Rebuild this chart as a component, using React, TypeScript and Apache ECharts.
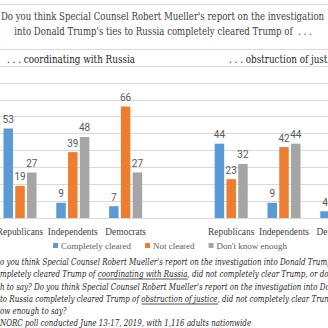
import React, { useEffect, useRef } from "react";
import * as echarts from "echarts";

const categories = ["Republicans", "Independents", "Democrats"];
const seriesNames = ["Completely cleared", "Not cleared", "Don't know enough"];
const coordCleared = [53, 9, 7];
const coordNotCleared = [19, 39, 66];
const coordDontKnow = [27, 48, 27];
const obstrCleared = [44, 9, 4];
const obstrNotCleared = [23, 42, 70];
const obstrDontKnow = [32, 44, 24];
const colors = ["#5B9BD5", "#ED7D31", "#A5A5A5"];

const titleLines = [
  "Do you think Special Counsel Robert Mueller's report on the investigation",
  "into Donald Trump's ties to Russia completely cleared Trump of  . . .",
];
const panelTitles = [". . . coordinating with Russia", ". . . obstruction of justice"];

// [hidden prefix (cut off at left), text, underlined, rest]
const noteLines: [string, string, string, string][] = [
  ["D", "o you think Special Counsel Robert Mueller's report on the investigation into Donald Trump's", "", ""],
  ["co", "mpletely cleared Trump of ", "coordinating with Russia", ", did not completely clear Trump, or don't you know"],
  ["enoug", "h to say? Do you think Special Counsel Robert Mueller's report on the investigation into Donald", "", ""],
  ["ties ", "to Russia completely cleared Trump of ", "obstruction of justice", ", did not completely clear Trump, or don't"],
  ["kn", "ow enough to say?", "", ""],
  ["AP-", "NORC poll conducted June 13-17, 2019, with 1,116 adults nationwide", "", ""],
];

const SERIF = "Liberation Serif";
const SLAB = "DejaVu Serif";

function measure(text: string, font: string): number {
  const c = document.createElement("canvas");
  const ctx = c.getContext("2d")!;
  ctx.font = font;
  return ctx.measureText(text).width;
}

function fit(text: string, target: number, family: string): number {
  return (10 * target) / measure(text, `10px "${family}"`);
}

export default function App() {
  const ref = useRef<HTMLDivElement>(null);
  useEffect(() => {
    if (!ref.current) return;
    const chart = echarts.init(ref.current, null, { renderer: "svg" });

    const axisCats = [...categories, "", ...categories];
    const seriesData = [
      [...coordCleared, null, ...obstrCleared],
      [...coordNotCleared, null, ...obstrNotCleared],
      [...coordDontKnow, null, ...obstrDontKnow],
    ];

    const catSize = fit("Independents", 50, SERIF);
    const legendSize = fit("Completely cleared", 70, SERIF);

    const titleSX = 324 / measure(titleLines[0], `10.5px "${SLAB}"`);
    const panelSX = 128 / measure(panelTitles[0], `11px "${SLAB}"`);
    const noteCanvasFont = `italic 10px "${SLAB}"`;
    const sample = "o you think Special Counsel Robert Mueller's report on the investigation into Donald Trum";
    const noteSX = 328 / measure(sample, noteCanvasFont);
    const noteY = [261.5, 274, 286.5, 299, 311, 323];

    const textStyle = (text: string, size: number, fill: string, align: string, italic = false) => ({
      text,
      fontSize: size,
      fontFamily: SLAB,
      fontStyle: italic ? "italic" : "normal",
      fill,
      align,
      verticalAlign: "middle",
    });

    const graphics: any[] = [
      { type: "line", shape: { x1: 0, y1: 4.5, x2: 328, y2: 4.5 }, style: { stroke: "#d9d9d9", lineWidth: 1 } },
      { type: "line", shape: { x1: 0, y1: 49.5, x2: 328, y2: 49.5 }, style: { stroke: "#d9d9d9", lineWidth: 1 } },
      { type: "text", x: 162.5, y: 16, scaleX: titleSX, style: textStyle(titleLines[0], 10.5, "#404040", "center") },
      { type: "text", x: 163, y: 31, scaleX: titleSX, style: textStyle(titleLines[1], 10.5, "#404040", "center") },
      { type: "text", x: 7, y: 59, scaleX: panelSX, style: textStyle(panelTitles[0], 11, "#262626", "left") },
      { type: "text", x: 229, y: 59, scaleX: panelSX, style: textStyle(panelTitles[1], 11, "#262626", "left") },
    ];

    noteLines.forEach((ln, i) => {
      const [hidden, pre, und, post] = ln;
      const x0 = -measure(hidden, noteCanvasFont) * noteSX;
      graphics.push({
        type: "text", x: x0, y: noteY[i], scaleX: noteSX,
        style: textStyle(hidden + pre + und + post, 10, "#262626", "left", true),
      });
      if (und) {
        const ux = x0 + measure(hidden + pre, noteCanvasFont) * noteSX;
        const uw = measure(und, noteCanvasFont) * noteSX;
        graphics.push({
          type: "line",
          shape: { x1: ux, y1: noteY[i] + 5, x2: ux + uw, y2: noteY[i] + 5 },
          style: { stroke: "#262626", lineWidth: 0.8 },
        });
      }
    });

    chart.setOption({
      animation: false,
      color: colors,
      textStyle: { fontFamily: SERIF },
      grid: { left: -6.4, top: 66, width: 369.6, height: 152, containLabel: false, outerBoundsMode: "none" },
      xAxis: {
        type: "category",
        data: axisCats,
        axisTick: { show: false },
        axisLine: { lineStyle: { color: "#d9d9d9" } },
        axisLabel: { fontSize: catSize, color: "#404040", fontFamily: SERIF, margin: 9, interval: 0 },
      },
      yAxis: {
        type: "value",
        min: 0,
        max: 90,
        interval: 10,
        axisLabel: { show: false },
        axisLine: { show: false },
        axisTick: { show: false },
        splitLine: { lineStyle: { color: "#d9d9d9" } },
      },
      legend: {
        data: seriesNames,
        left: 53,
        top: 241,
        padding: 0,
        icon: "rect",
        itemWidth: 5,
        itemHeight: 5,
        itemGap: 14,
        textStyle: { fontSize: legendSize, color: "#595959", fontFamily: SERIF, padding: [0, 0, 0, -2] },
      },
      series: seriesNames.map((name, i) => ({
        name,
        type: "bar",
        data: seriesData[i],
        barWidth: 9.5,
        barGap: "24%",
        label: {
          show: true,
          position: "top",
          distance: 4,
          fontSize: 10,
          color: "#595959",
          fontFamily: "Roboto, sans-serif",
        },
      })),
      graphic: graphics,
    });
    return () => chart.dispose();
  }, []);
  return <div ref={ref} style={{ width: 328, height: 328, position: "absolute", left: 0, top: 0 }} />;
}
